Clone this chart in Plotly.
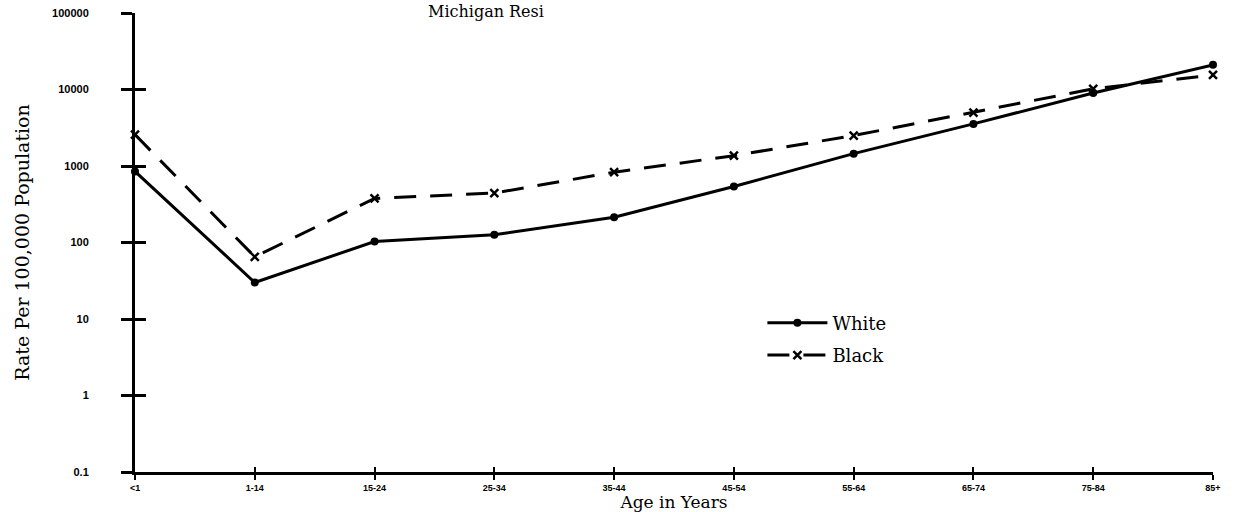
import plotly.graph_objects as go

ages = ["<1", "1-14", "15-24", "25-34", "35-44", "45-54", "55-64", "65-74", "75-84", "85+"]
white = [850, 30, 103, 126, 214, 540, 1450, 3550, 9000, 21000]
black = [2570, 65, 377, 443, 830, 1365, 2500, 5000, 10200, 15500]

y_ticks = [0.1, 1, 10, 100, 1000, 10000, 100000]
y_labels = ["0.1", "1", "10", "100", "1000", "10000", "100000"]

serif = "DejaVu Serif"

fig = go.Figure()

fig.add_trace(go.Scatter(
    x=ages, y=white, name="White", mode="lines+markers",
    line=dict(color="black", width=3),
    marker=dict(symbol="circle", size=8, color="black"),
    cliponaxis=False, legendgroup="w",
))
fig.add_trace(go.Scatter(
    x=ages, y=black, name="Black", mode="lines+markers",
    line=dict(color="black", width=3, dash="22px,14px"),
    marker=dict(symbol="x-thin", size=8, line=dict(color="black", width=2.5)),
    cliponaxis=False, legendgroup="b",
))
# same values on the overlay axes so the cross-through ticks get drawn
fig.add_trace(go.Scatter(
    x=ages, y=white, xaxis="x2", yaxis="y2", mode="lines",
    line=dict(width=0), showlegend=False, hoverinfo="skip",
))

fig.update_layout(
    width=1237, height=512,
    margin=dict(l=135, r=24, t=13, b=40),
    paper_bgcolor="white", plot_bgcolor="white",
    showlegend=True,
    legend=dict(
        x=0.582, y=0.365, xanchor="left", yanchor="top",
        font=dict(family=serif, size=18, color="black"),
        bgcolor="rgba(0,0,0,0)", tracegroupgap=6, itemwidth=60,
    ),
    xaxis=dict(
        type="category", range=[0, 9], showgrid=False, zeroline=False, automargin=False,
        showline=True, linecolor="black", linewidth=3,
        ticks="outside", ticklen=5, tickwidth=2, tickcolor="black",
        tickfont=dict(family="Liberation Sans", size=9, color="black", weight="bold"),
        title=dict(text="Age in Years", font=dict(family=serif, size=17, color="black"), standoff=2),
    ),
    yaxis=dict(
        type="log", range=[-1, 5], showgrid=False, zeroline=False, automargin=False,
        showline=True, linecolor="black", linewidth=3,
        tickvals=y_ticks, ticktext=y_labels,
        ticks="outside", ticklen=11, tickwidth=3, tickcolor="black",
        tickfont=dict(family="Liberation Sans", size=11, color="black", weight="bold"),
        ticklabelstandoff=30,
        title=dict(text="Rate Per 100,000 Population", font=dict(family=serif, size=19, color="black"), standoff=18),
    ),
    xaxis2=dict(
        type="category", range=[0, 9], overlaying="x", showgrid=False, zeroline=False,
        showline=False, ticks="inside", ticklen=5, tickwidth=2, tickcolor="black",
        showticklabels=False, automargin=False,
    ),
    yaxis2=dict(
        type="log", range=[-1, 5], overlaying="y", showgrid=False, zeroline=False,
        showline=False, tickvals=y_ticks, ticks="inside", ticklen=11, tickwidth=3,
        tickcolor="black", showticklabels=False, automargin=False,
    ),
)

fig.add_annotation(
    text="Michigan Resi", xref="paper", yref="paper", x=0.27, y=1.028,
    xanchor="left", yanchor="top", showarrow=False,
    font=dict(family=serif, size=16, color="black"),
)

# drop the default page margin so the figure sits at the window corner
fig.write_html(
    "out.html",
    config={"displayModeBar": False},
    post_script="document.body.style.margin='0';",
)
